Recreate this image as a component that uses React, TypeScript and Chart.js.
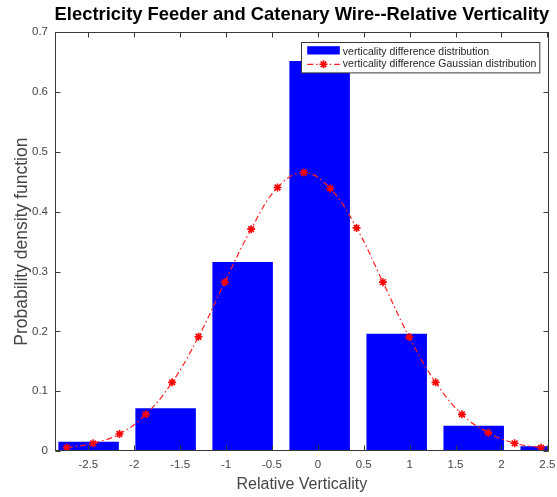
import React, { useEffect, useRef } from 'react';
import { Chart, registerables } from 'chart.js';

Chart.register(...registerables);

const titleText = 'Electricity Feeder and Catenary Wire--Relative Verticality';
const xTitle = 'Relative Verticality';
const yTitle = 'Probability density function';
const barLabel = 'verticality difference distribution';
const lineLabel = 'verticality difference Gaussian distribution';

// histogram bins (centres) and densities
const binCenters = [-2.497, -1.658, -0.819, 0.02, 0.859, 1.698, 2.537];
const binDensity = [0.0155, 0.0713, 0.316, 0.652, 0.196, 0.0423, 0.0078];

// Gaussian fit sample points
const gaussX = [
  -2.735, -2.448, -2.161, -1.874, -1.587, -1.3, -1.013, -0.726, -0.439, -0.152,
  0.135, 0.422, 0.709, 0.996, 1.283, 1.57, 1.857, 2.144, 2.431,
];
const gaussY = [
  0.0055, 0.0129, 0.0284, 0.0613, 0.1148, 0.191, 0.2823, 0.3709, 0.4405, 0.4656,
  0.4389, 0.373, 0.2823, 0.1904, 0.1148, 0.0613, 0.0306, 0.0129, 0.0055,
];

const xTicks = [-2.5, -2, -1.5, -1, -0.5, 0, 0.5, 1, 1.5, 2, 2.5];
const yTicks = [0, 0.1, 0.2, 0.3, 0.4, 0.5, 0.6, 0.7];
const xMin = -2.863;
const xMax = 2.515;
const yMin = 0;
const yMax = 0.7;

const FONT = '"Liberation Sans", Arial, Helvetica, sans-serif';
const AXIS_COLOR = '#3a3a3a';
const TEXT_COLOR = '#454545';

function drawStar(ctx: CanvasRenderingContext2D, x: number, y: number, r: number) {
  ctx.beginPath();
  ctx.moveTo(x - r, y);
  ctx.lineTo(x + r, y);
  ctx.moveTo(x, y - r);
  ctx.lineTo(x, y + r);
  const d = r * Math.SQRT1_2;
  ctx.moveTo(x - d, y - d);
  ctx.lineTo(x + d, y + d);
  ctx.moveTo(x - d, y + d);
  ctx.lineTo(x + d, y - d);
  ctx.stroke();
}

const matlabAxes = {
  id: 'matlabAxes',
  afterLayout(chart: any) {
    const tb = chart.titleBlock;
    if (tb) {
      tb.left = chart.chartArea.left - 30;
      tb.right = chart.chartArea.right + 30;
    }
  },
  afterDatasetsDraw(chart: any) {
    const { ctx, chartArea: a, scales } = chart;
    const xs = scales.x;
    const ys = scales.y;
    ctx.save();
    ctx.strokeStyle = AXIS_COLOR;
    ctx.lineWidth = 1;
    ctx.setLineDash([]);
    const L = Math.round(a.left) + 0.5;
    const R = Math.round(a.right) - 0.5;
    const T = Math.round(a.top) + 0.5;
    const B = Math.round(a.bottom) - 0.5;
    ctx.strokeRect(L, T, R - L, B - T);
    const len = 5;
    ctx.beginPath();
    xs.ticks.forEach((t: any) => {
      const px = Math.round(xs.getPixelForValue(t.value)) + 0.5;
      ctx.moveTo(px, B);
      ctx.lineTo(px, B - len);
      ctx.moveTo(px, T);
      ctx.lineTo(px, T + len);
    });
    ys.ticks.forEach((t: any) => {
      const py = Math.round(ys.getPixelForValue(t.value)) + 0.5;
      ctx.moveTo(L, py);
      ctx.lineTo(L + len, py);
      ctx.moveTo(R, py);
      ctx.lineTo(R - len, py);
    });
    ctx.stroke();
    ctx.restore();
  },
  afterDraw(chart: any) {
    const { ctx, chartArea: a } = chart;
    const barDs = chart.data.datasets.find((d: any) => d.type === 'bar');
    const lineDs = chart.data.datasets.find((d: any) => d.type === 'line');
    const w = 238.3;
    const h = 30.4;
    const bx = Math.round(a.right - 9.4 - w) + 0.5;
    const by = Math.round(a.top + 10) + 0.5;
    ctx.save();
    ctx.fillStyle = '#ffffff';
    ctx.fillRect(bx, by, w, h);
    ctx.strokeStyle = AXIS_COLOR;
    ctx.lineWidth = 1;
    ctx.strokeRect(bx, by, w, h);
    // bar item
    ctx.fillStyle = barDs.backgroundColor;
    ctx.fillRect(bx + 5.7, by + 3.7, 32.6, 8.3);
    // line item
    const ly = by + 21.8;
    ctx.strokeStyle = lineDs.borderColor;
    ctx.lineWidth = lineDs.borderWidth;
    ctx.setLineDash(lineDs.borderDash);
    ctx.beginPath();
    ctx.moveTo(bx + 5.7, ly);
    ctx.lineTo(bx + 38.3, ly);
    ctx.stroke();
    ctx.setLineDash([]);
    ctx.strokeStyle = lineDs.pointBorderColor;
    ctx.lineWidth = lineDs.pointBorderWidth;
    drawStar(ctx, bx + 22, ly, lineDs.pointRadius);
    // texts
    ctx.fillStyle = '#262626';
    ctx.font = `10.5px ${FONT}`;
    ctx.textBaseline = 'middle';
    ctx.textAlign = 'left';
    ctx.fillText(barDs.label, bx + 41.3, by + 9.2);
    ctx.fillText(lineDs.label, bx + 41.3, ly);
    ctx.restore();
  },
};

export default function App() {
  const ref = useRef<HTMLCanvasElement>(null);
  useEffect(() => {
    document.body.style.margin = '0';
    const canvas = ref.current;
    if (!canvas) return;
    const chart = new Chart(canvas, {
      type: 'bar',
      data: {
        datasets: [
          {
            type: 'line',
            label: lineLabel,
            data: gaussX.map((x, i) => ({ x, y: gaussY[i] })),
            borderColor: '#ff1f1f',
            borderWidth: 1.2,
            borderDash: [6, 3, 1.5, 3],
            tension: 0.4,
            fill: false,
            pointStyle: 'star',
            pointRadius: 4,
            pointBorderColor: '#ff0000',
            pointBackgroundColor: '#ff0000',
            pointBorderWidth: 1.6,
            order: 0,
          } as any,
          {
            type: 'bar',
            label: barLabel,
            data: binCenters.map((x, i) => ({ x, y: binDensity[i] })),
            backgroundColor: '#0000ff',
            borderWidth: 0,
            categoryPercentage: 1,
            barPercentage: 1.318,
            clip: 0,
            order: 1,
          } as any,
        ],
      },
      options: {
        animation: false,
        responsive: false,
        maintainAspectRatio: false,
        layout: { padding: { left: 0, right: 8.3, top: 0, bottom: 0 } },
        plugins: {
          legend: { display: false },
          tooltip: { enabled: false },
          title: {
            display: true,
            text: titleText,
            color: '#000000',
            font: { family: FONT, size: 18.4, weight: 'bold' },
            padding: { top: 4, bottom: 6.2 },
          },
        },
        scales: {
          x: {
            type: 'linear',
            min: xMin,
            max: xMax,
            offset: false,
            grid: { display: false, drawTicks: false },
            border: { display: false },
            afterBuildTicks: (s: any) => {
              s.ticks = xTicks.map((v) => ({ value: v }));
            },
            ticks: {
              callback: (v: any) => String(v),
              color: TEXT_COLOR,
              font: { family: FONT, size: 11.5 },
              padding: 6.8,
              maxRotation: 0,
              autoSkip: false,
            },
            title: {
              display: true,
              text: xTitle,
              color: TEXT_COLOR,
              font: { family: FONT, size: 16 },
              padding: { top: 0, bottom: 2.7 },
            },
            afterFit: (s: any) => {
              s.height = 46;
              s.paddingLeft = 0;
              s.paddingRight = 0;
            },
          },
          y: {
            type: 'linear',
            min: yMin,
            max: yMax,
            grid: { display: false, drawTicks: false },
            border: { display: false },
            afterBuildTicks: (s: any) => {
              s.ticks = yTicks.map((v) => ({ value: v }));
            },
            ticks: {
              callback: (v: any) => String(v),
              color: TEXT_COLOR,
              font: { family: FONT, size: 11.5 },
              padding: 7,
              autoSkip: false,
            },
            title: {
              display: true,
              text: yTitle,
              color: TEXT_COLOR,
              font: { family: FONT, size: 17.5 },
              padding: { top: 12, bottom: 0 },
            },
            afterFit: (s: any) => {
              s.width = 55;
              s.paddingTop = 0;
              s.paddingBottom = 0;
            },
          },
        },
      } as any,
      plugins: [matlabAxes as any],
    });
    return () => chart.destroy();
  }, []);
  return (
    <div style={{ width: 557, height: 497 }}>
      <canvas ref={ref} width={557} height={497} style={{ display: 'block' }} />
    </div>
  );
}
